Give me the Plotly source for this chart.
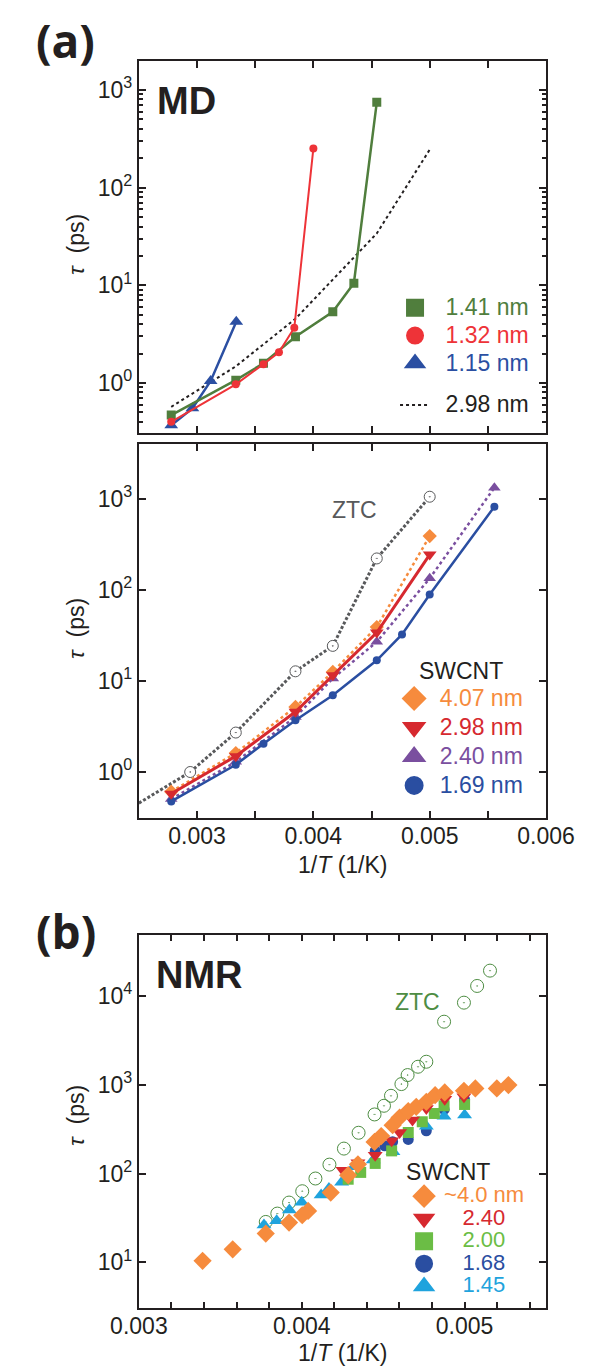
import plotly.graph_objects as go

W, H = 605, 1369
# the page body adds an 8 px margin around the figure; positions below are page pixels
OFF = 8
FONT = "Liberation Sans, Arial, sans-serif"
INK = "#231f20"

# ---------------- data: panel (a) MD, upper ----------------
inv_T_141 = [0.002778, 0.003333, 0.003571, 0.003846, 0.004167, 0.004348, 0.004545]
tau_141 = [0.47, 1.07, 1.59, 2.98, 5.37, 10.5, 748]
inv_T_132 = [0.002778, 0.003333, 0.003571, 0.003704, 0.003836, 0.004000]
tau_132 = [0.40, 0.97, 1.56, 2.06, 3.68, 252]
inv_T_115 = [0.002778, 0.002960, 0.003117, 0.003337]
tau_115 = [0.37, 0.55, 1.05, 4.24]

# ---------------- data: panel (a) MD, lower ----------------
inv_T_ztc_line = [0.0025, 0.002941, 0.003333, 0.003846, 0.004167, 0.004545, 0.005]
tau_ztc_line = [0.45, 0.99, 2.69, 12.7, 24.2, 222, 1061]
inv_T_ztc_pts = [0.002941, 0.003333, 0.003846, 0.004167, 0.004545, 0.005]
tau_ztc_pts = [0.99, 2.69, 12.7, 24.2, 222, 1061]
inv_T_407 = [0.002778, 0.003333, 0.003846, 0.004167, 0.004545, 0.005]
tau_407 = [0.60, 1.60, 5.15, 12.5, 39, 391]
inv_T_298 = [0.002778, 0.003333, 0.003846, 0.004167, 0.004545, 0.005]
tau_298 = [0.57, 1.48, 4.55, 11.5, 34, 245]
inv_T_240 = [0.002778, 0.003333, 0.003846, 0.004167, 0.004545, 0.005, 0.005556]
tau_240 = [0.50, 1.28, 4.0, 10.6, 26.8, 134, 1333]
inv_T_169 = [0.002778, 0.003333, 0.003571, 0.003846, 0.004167, 0.004545, 0.004762, 0.005, 0.005556]
tau_169 = [0.47, 1.19, 2.03, 3.67, 6.93, 16.8, 32.3, 89, 824]

# ---------------- data: panel (b) NMR ----------------
inv_T_nmr_ztc = [0.003779, 0.003850, 0.003922, 0.004003, 0.004084, 0.004170, 0.004259, 0.004349,
                 0.004447, 0.004505, 0.004548, 0.004612, 0.004650, 0.004714, 0.004765,
                 0.004874, 0.004996, 0.005077, 0.005156]
tau_nmr_ztc = [28.5, 35.4, 47.1, 63.2, 87.9, 126, 191, 288, 463, 580, 751, 1018, 1286, 1596, 1817,
               5135, 8410, 12970, 19300]
inv_T_nmr_40 = [0.003391, 0.003576, 0.003779, 0.003922, 0.004003, 0.004039, 0.004178, 0.004285,
                0.004345, 0.004447, 0.004488, 0.004558, 0.004601, 0.004654, 0.004703, 0.004765,
                0.004819, 0.004878, 0.004996, 0.005066, 0.005198, 0.005269]
tau_nmr_40 = [10.4, 14.0, 21.1, 28.0, 33.9, 37.9, 61.1, 95.8, 127, 227, 264, 351, 428, 505, 565,
              643, 764, 820, 856, 909, 909, 991]
inv_T_nmr_240 = [0.004253, 0.004345, 0.004451, 0.004552, 0.004601, 0.004680, 0.004765, 0.004878, 0.004996]
tau_nmr_240 = [109, 132, 161, 234, 290, 400, 541, 689, 732]
inv_T_nmr_200 = [0.004285, 0.004362, 0.004451, 0.004552, 0.004654, 0.004740, 0.004814, 0.004874, 0.005000]
tau_nmr_200 = [86.3, 103, 130, 180, 290, 383, 475, 580, 600]
inv_T_nmr_168 = [0.004451, 0.004509, 0.004558, 0.004654, 0.004765, 0.004874, 0.005000]
tau_nmr_168 = [180, 205, 228, 242, 303, 527, 680]
inv_T_nmr_145 = [0.003768, 0.003846, 0.003924, 0.004000, 0.004119, 0.004167, 0.004245, 0.004320,
                 0.004439, 0.004560, 0.004765, 0.004874, 0.005000]
tau_nmr_145 = [26.3, 29.4, 38.8, 47.4, 57.3, 68, 79.6, 119, 142, 176, 342, 443, 455]

# ---------------- ticks ----------------
md_x_tickvals = [0.003, 0.004, 0.005, 0.006]
md_x_ticktext = ["0.003", "0.004", "0.005", "0.006"]
nmr_x_tickvals = [0.003, 0.004, 0.005]
nmr_x_ticktext = ["0.003", "0.004", "0.005"]
md_y_tickvals = [1, 10, 100, 1000]
md_y_ticktext = ["10<sup>0</sup>", "10<sup>1</sup>", "10<sup>2</sup>", "10<sup>3</sup>"]
nmr_y_tickvals = [10, 100, 1000, 10000]
nmr_y_ticktext = ["10<sup>1</sup>", "10<sup>2</sup>", "10<sup>3</sup>", "10<sup>4</sup>"]

# ---------------- colours ----------------
C_G141 = "#507e3d"
C_R132 = "#ee3338"
C_B115 = "#2b4fa2"
C_ORANGE = "#f68b3d"
C_RED = "#d6292f"
C_PURPLE = "#7a4f9f"
C_BLUE = "#2a4ea1"
C_GRAY = "#58595b"
C_GREEN_B = "#6bbd45"
C_LBLUE = "#1fa3dd"
C_ZTC_B = "#4e8d43"


def px_x(p):
    return (p - OFF) / W


def px_y(p):
    return 1 - (p - OFF) / H


def lab(text, color, size=23):
    return f"<span style='font-size:{size}px;color:{color}'>{text}</span>"


fig = go.Figure()

# ===== panel (a) upper : MD =====
fig.add_trace(go.Scatter(x=inv_T_298, y=tau_298, mode="lines", line=dict(color=INK, width=2, dash="dot"),
                         xaxis="x", yaxis="y", showlegend=False))
fig.add_trace(go.Scatter(x=inv_T_115, y=tau_115, mode="lines+markers", line=dict(color=C_B115, width=2.5),
                         marker=dict(symbol="triangle-up", size=12, color=C_B115),
                         xaxis="x", yaxis="y", showlegend=False))
fig.add_trace(go.Scatter(x=inv_T_141, y=tau_141, mode="lines+markers", line=dict(color=C_G141, width=2.5),
                         marker=dict(symbol="square", size=9, color=C_G141),
                         xaxis="x", yaxis="y", showlegend=False))
fig.add_trace(go.Scatter(x=inv_T_132, y=tau_132, mode="lines+markers", line=dict(color=C_R132, width=2),
                         marker=dict(symbol="circle", size=8, color=C_R132),
                         xaxis="x", yaxis="y", showlegend=False))
# legend entries (upper panel)
for nm, c, sym, grp in [("1.41 nm", C_G141, "square", "g1"), ("1.32 nm", C_R132, "circle", "g1"),
                        ("1.15 nm", C_B115, "triangle-up", "g1")]:
    fig.add_trace(go.Scatter(x=[None], y=[None], mode="markers", name="\u00a0\u00a0" + lab(nm, c),
                             marker=dict(symbol=sym, size=16, color=c, line=dict(color=c, width=2)),
                             xaxis="x", yaxis="y", legend="legend", legendgroup=grp))
fig.add_trace(go.Scatter(x=[None], y=[None], mode="lines", name="\u00a0\u00a0" + lab("2.98 nm", INK),
                         line=dict(color=INK, width=2, dash="dot"),
                         xaxis="x", yaxis="y", legend="legend", legendgroup="g2"))

# ===== panel (a) lower : MD vs SWCNT/ZTC =====
fig.add_trace(go.Scatter(x=inv_T_ztc_line, y=tau_ztc_line, mode="lines",
                         line=dict(color=C_GRAY, width=3, dash="3px,2px"),
                         xaxis="x2", yaxis="y2", showlegend=False))
fig.add_trace(go.Scatter(x=inv_T_ztc_pts, y=tau_ztc_pts, mode="markers",
                         marker=dict(symbol="circle-dot", size=11, color="white", line=dict(color=C_GRAY, width=1)),
                         xaxis="x2", yaxis="y2", showlegend=False))
fig.add_trace(go.Scatter(x=inv_T_407, y=tau_407, mode="lines+markers", line=dict(color=C_ORANGE, width=2.5, dash="dot"),
                         marker=dict(symbol="diamond", size=11, color=C_ORANGE),
                         xaxis="x2", yaxis="y2", showlegend=False))
fig.add_trace(go.Scatter(x=inv_T_240, y=tau_240, mode="lines+markers", line=dict(color=C_PURPLE, width=2.5, dash="dot"),
                         marker=dict(symbol="triangle-up", size=11, color=C_PURPLE),
                         xaxis="x2", yaxis="y2", showlegend=False))
fig.add_trace(go.Scatter(x=inv_T_169, y=tau_169, mode="lines+markers", line=dict(color=C_BLUE, width=2.5),
                         marker=dict(symbol="circle", size=8, color=C_BLUE),
                         xaxis="x2", yaxis="y2", showlegend=False))
fig.add_trace(go.Scatter(x=inv_T_298, y=tau_298, mode="lines+markers", line=dict(color=C_RED, width=3),
                         marker=dict(symbol="triangle-down", size=12, color=C_RED),
                         xaxis="x2", yaxis="y2", showlegend=False))
for nm, c, sym in [("4.07 nm", C_ORANGE, "diamond"), ("2.98 nm", C_RED, "triangle-down"),
                   ("2.40 nm", C_PURPLE, "triangle-up"), ("1.69 nm", C_BLUE, "circle")]:
    fig.add_trace(go.Scatter(x=[None], y=[None], mode="markers", name="\u00a0" + lab(nm, c),
                             marker=dict(symbol=sym, size=16, color=c, line=dict(color=c, width=3)),
                             xaxis="x2", yaxis="y2", legend="legend2"))

# ===== panel (b) : NMR =====
fig.add_trace(go.Scatter(x=inv_T_nmr_ztc, y=tau_nmr_ztc, mode="markers",
                         marker=dict(symbol="circle-open-dot", size=13, color=C_ZTC_B, line=dict(color=C_ZTC_B, width=1)),
                         xaxis="x3", yaxis="y3", showlegend=False))
fig.add_trace(go.Scatter(x=inv_T_nmr_168, y=tau_nmr_168, mode="markers",
                         marker=dict(symbol="circle", size=11, color=C_BLUE),
                         xaxis="x3", yaxis="y3", showlegend=False))
fig.add_trace(go.Scatter(x=inv_T_nmr_145, y=tau_nmr_145, mode="markers",
                         marker=dict(symbol="triangle-up", size=13, color=C_LBLUE),
                         xaxis="x3", yaxis="y3", showlegend=False))
fig.add_trace(go.Scatter(x=inv_T_nmr_200, y=tau_nmr_200, mode="markers",
                         marker=dict(symbol="square", size=11, color=C_GREEN_B),
                         xaxis="x3", yaxis="y3", showlegend=False))
fig.add_trace(go.Scatter(x=inv_T_nmr_240, y=tau_nmr_240, mode="markers",
                         marker=dict(symbol="triangle-down", size=13, color=C_RED),
                         xaxis="x3", yaxis="y3", showlegend=False))
fig.add_trace(go.Scatter(x=inv_T_nmr_40, y=tau_nmr_40, mode="markers",
                         marker=dict(symbol="diamond", size=14, color=C_ORANGE),
                         xaxis="x3", yaxis="y3", showlegend=False))
for nm, c, sym in [("~4.0 nm", C_ORANGE, "diamond"), ("\u00a0\u00a0\u00a02.40", C_RED, "triangle-down"),
                   ("\u00a0\u00a0\u00a02.00", C_GREEN_B, "square"), ("\u00a0\u00a0\u00a01.68", C_BLUE, "circle"),
                   ("\u00a0\u00a0\u00a01.45", C_LBLUE, "triangle-up")]:
    fig.add_trace(go.Scatter(x=[None], y=[None], mode="markers", name=lab(nm, c, 22),
                             marker=dict(symbol=sym, size=16, color=c, line=dict(color=c, width=2)),
                             xaxis="x3", yaxis="y3", legend="legend3"))

# ---------------- axes ----------------
XDOM = [px_x(120.7), px_x(571)]
common_x = dict(showline=True, linecolor=INK, linewidth=2, mirror="ticks", ticks="inside",
                showgrid=False, zeroline=False, tickcolor=INK, tickwidth=1.5, ticklabelstandoff=-4,
                tickfont=dict(size=23, color=INK, family=FONT))
common_y = dict(type="log", showline=True, linecolor=INK, linewidth=2, mirror="ticks", ticks="inside",
                showgrid=False, zeroline=False, tickcolor=INK, tickwidth=1.5,
                tickfont=dict(size=23, color=INK, family=FONT))

fig.update_layout(
    xaxis=dict(common_x, domain=XDOM, anchor="y", range=[0.0025, 0.006], tickmode="linear",
               tick0=0.0025, dtick=0.0005, ticklen=7, showticklabels=False),
    yaxis=dict(common_y, domain=[px_y(433.3), px_y(61)], anchor="x", range=[-0.515, 3.297],
               tickvals=md_y_tickvals, ticktext=md_y_ticktext, ticklen=7,
               minor=dict(ticks="inside", ticklen=4, dtick="D1", tickcolor=INK, showgrid=False)),
    xaxis2=dict(common_x, domain=XDOM, anchor="y2", range=[0.0025, 0.006],
                tickvals=md_x_tickvals, ticktext=md_x_ticktext, ticklen=7,
                minor=dict(ticks="inside", ticklen=7, tick0=0.0025, dtick=0.0005, tickcolor=INK, showgrid=False)),
    yaxis2=dict(common_y, domain=[px_y(818.3), px_y(444)], anchor="x2", range=[-0.514, 3.606],
                tickvals=md_y_tickvals, ticktext=md_y_ticktext, ticklen=7),
    xaxis3=dict(common_x, domain=XDOM, anchor="y3", range=[0.003, 0.0055],
                tickvals=nmr_x_tickvals, ticktext=nmr_x_ticktext, ticklen=6,
                minor=dict(ticks="inside", ticklen=6, tick0=0.003, dtick=0.0002, tickcolor=INK, showgrid=False)),
    yaxis3=dict(common_y, domain=[px_y(1308.3), px_y(935)], anchor="x3", range=[0.482, 4.687],
                tickvals=nmr_y_tickvals, ticktext=nmr_y_ticktext, ticklen=7),
)

leg_common = dict(xanchor="left", yanchor="top", bgcolor="rgba(0,0,0,0)", borderwidth=0,
                  itemsizing="trace", itemclick=False)
fig.update_layout(
    legend=dict(leg_common, x=px_x(404), y=px_y(289), traceorder="grouped", tracegroupgap=14,
                font=dict(size=19, family=FONT, color=INK)),
    legend2=dict(leg_common, x=px_x(403), y=px_y(649),
                 font=dict(size=20, family=FONT, color=INK),
                 title=dict(text="SWCNT", side="top center", font=dict(size=23, family=FONT, color=INK))),
    legend3=dict(leg_common, x=px_x(414), y=px_y(1150),
                 font=dict(size=15, family=FONT, color=INK),
                 title=dict(text="SWCNT", side="top", font=dict(size=23, family=FONT, color=INK))),
)

# ---------------- text ----------------
ann = []


def add_text(text, x, y, size, color=INK, bold=False, angle=0, family=FONT):
    ann.append(dict(text=f"<b>{text}</b>" if bold else text, x=px_x(x), y=px_y(y), xref="paper", yref="paper",
                    xanchor="center", yanchor="middle", showarrow=False, textangle=angle,
                    font=dict(size=size, color=color, family=family)))


add_text("(a)", 39, 40, 46, bold=True, family="Open Sans, sans-serif")
add_text("(b)", 40, 931, 46, bold=True, family="Open Sans, sans-serif")
add_text("MD", 173, 101, 38, bold=True)
add_text("NMR", 188, 975, 38, bold=True)
add_text("ZTC", 359, 510, 23, color=C_GRAY)
add_text("ZTC", 429, 1002, 23, color=C_ZTC_B)
for yc in (244, 628, 1115):
    add_text("<i>τ</i>\u00a0\u00a0(ps)", 51, yc, 23, angle=-90)
add_text("1/<i>T</i> (1/K)", 346, 865, 23)
add_text("1/<i>T</i> (1/K)", 346, 1353, 23)

fig.update_layout(
    annotations=ann,
    width=W, height=H, autosize=False,
    margin=dict(l=0, r=0, t=0, b=0),
    paper_bgcolor="white", plot_bgcolor="white",
    font=dict(family=FONT, color=INK),
)

fig.write_html("out.html")
